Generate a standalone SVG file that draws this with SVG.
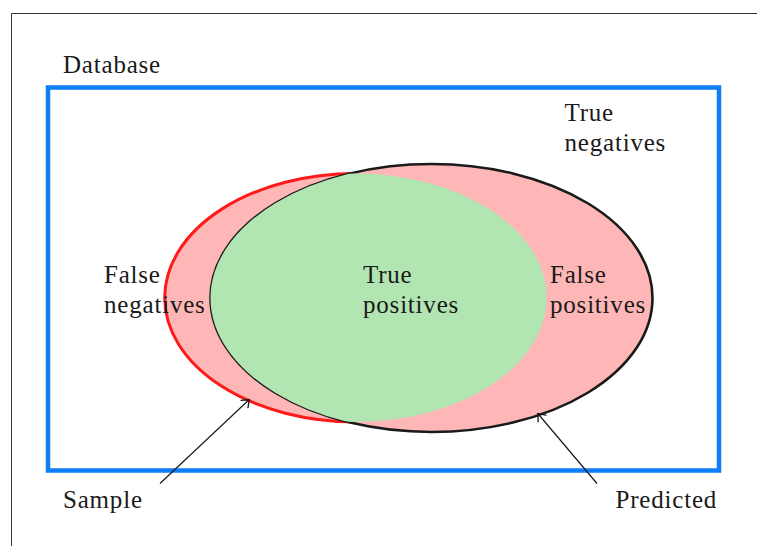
<svg xmlns="http://www.w3.org/2000/svg" width="757" height="546" viewBox="0 0 757 546">
  <style>
    text { font-family: 'Liberation Serif', 'DejaVu Serif', serif; font-size: 25px; letter-spacing: 0.8px; fill: #1a1a1a; }
    .frame { stroke: #333; stroke-width: 1; fill: none; }
    .conn { stroke: #1a1a1a; stroke-width: 1.2; fill: none; marker-end: url(#arrow); }
  </style>
  <defs>
    <marker id="arrow" markerWidth="14" markerHeight="14" refX="0" refY="0" viewBox="-9 -7 11 14" orient="auto" markerUnits="userSpaceOnUse">
      <path d="M -6.5,-5 Q -1.8,-1.4 0,0 Q -1.8,1.4 -6.5,5" fill="none" stroke="#1a1a1a" stroke-width="1.3" stroke-linecap="round"/>
    </marker>
    <clipPath id="sampleClip">
      <ellipse cx="355.6" cy="297.7" rx="190.9" ry="124.2"/>
    </clipPath>
  </defs>
  <rect width="757" height="546" fill="#ffffff"/>
  <g id="frame">
    <path class="frame" d="M 11.5,546 L 11.5,13.5 L 757,13.5"/>
  </g>
  <g id="database">
    <rect x="48" y="87.5" width="671" height="383" fill="none" stroke="#0d7ef7" stroke-width="4.5"/>
    <text x="63" y="72.7">Database</text>
  </g>
  <g id="sample">
    <ellipse cx="355.6" cy="297.7" rx="190.9" ry="124.2" fill="#feb7b6" stroke="#ff1a1a" stroke-width="3"/>
  </g>
  <g id="predicted">
    <ellipse cx="431.5" cy="298" rx="221" ry="134" fill="#feb7b6" stroke="#1a1a1a" stroke-width="2.6"/>
  </g>
  <g id="true-positives">
    <ellipse cx="431.5" cy="298" rx="221" ry="134" fill="#b1e5b1" clip-path="url(#sampleClip)"/>
    <text x="363" y="283.3">True</text>
    <text x="363" y="313.3">positives</text>
  </g>
  <g id="true-negatives">
    <text x="564.5" y="121.3">True</text>
    <text x="564.5" y="151.3">negatives</text>
  </g>
  <g id="false-negatives">
    <text x="104" y="283">False</text>
    <text x="104" y="313.3">negatives</text>
  </g>
  <g id="false-positives">
    <text x="550" y="283">False</text>
    <text x="550" y="313.3">positives</text>
  </g>
  <g id="sample-label">
    <text x="63" y="507.7">Sample</text>
  </g>
  <g id="predicted-label">
    <text x="615.5" y="507.7">Predicted</text>
  </g>
  <g id="connectors">
    <path class="conn" d="M 160,483.5 L 249.3,399.5"/>
    <path class="conn" d="M 597,483.5 L 537.8,413.5"/>
  </g>
</svg>
